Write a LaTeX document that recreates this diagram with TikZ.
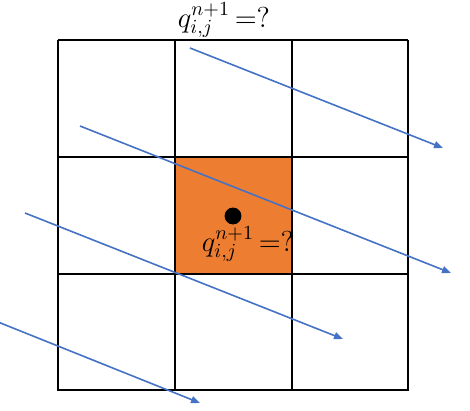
\documentclass[tikz,border=0pt]{standalone}
\usetikzlibrary{arrows.meta}
\definecolor{cellorange}{HTML}{ED7D31}
\definecolor{flowblue}{HTML}{4472C4}
\begin{document}
\begin{tikzpicture}[x=0.5pt,y=-0.5pt,
        gridline/.style={line width=1.1pt, color=black},
        flowline/.style={line width=0.8pt, color=flowblue, -{Triangle[length=4.5pt,width=3.5pt]}},
        qlabel/.style={font=\Large, inner sep=0pt}]
            \useasboundingbox (0,0) rectangle (470,411);

            \fill[cellorange] (175,157) rectangle (292,274);
            \foreach \t in {58,175,292,408} {
                \draw[gridline] (\t,40) -- (\t,391);
                \draw[gridline] (58,\t-18) -- (408,\t-18);
            }

            \coordinate (a1) at (190,48);  \coordinate (b1) at (443,148);
            \coordinate (a2) at (80,126);  \coordinate (b2) at (451,273);
            \coordinate (a3) at (25,213);  \coordinate (b3) at (343,339);
            \coordinate (a4) at (-2,322);  \coordinate (b4) at (200,403);
            \foreach \k in {1,2,3,4} {
                \draw[flowline] (a\k) -- (b\k);
            }

            \filldraw (233,216) circle (4pt);
            \node[qlabel] (qtop) at (224,20) {$q_{i,j}^{n+1}\,{=}?$};
            \node[qlabel] (qmid) at (248,244) {$q_{i,j}^{n+1}\,{=}?$};
        \end{tikzpicture}
\end{document}
